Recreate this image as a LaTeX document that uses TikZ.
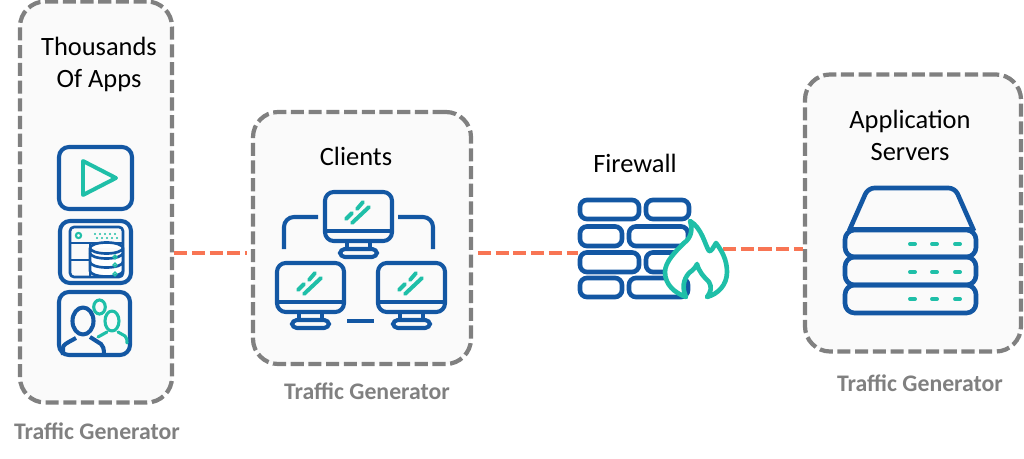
\documentclass[tikz,border=0pt]{standalone}
\usepackage{fontspec}
\setmainfont{Carlito}
\usepackage{xcolor}
\usetikzlibrary{calc}
\definecolor{iconblue}{HTML}{1357A3}
\definecolor{iconteal}{HTML}{1FBFA8}
\definecolor{linkred}{HTML}{F87554}
\definecolor{boxgray}{HTML}{808080}
\newcommand{\monitor}[2]{%
  \begin{scope}[shift={(#1,#2)}]
    \draw[blueline,rounded corners=2.2mm] (325,192) rectangle (392,241);
    \draw[blueline] (325,231)--(392,231) (347,241)--(347,250) (370,241)--(370,250);
    \draw[blueline,rounded corners=1.2mm] (340,249) rectangle (377,257);
    \draw[tealline] (363,202)--(357,209) (352,213)--(346,219) (369,207)--(352,223);
  \end{scope}}
\newcommand{\serverdots}[1]{%
  \draw[tealline] (910,#1)--(915,#1) (932,#1)--(937,#1) (955,#1)--(960,#1);}
\begin{document}
\begin{tikzpicture}[x=0.025cm,y=-0.025cm,
  group/.style={draw=boxgray,fill=black!2,line width=3pt,dash pattern=on 9.3pt off 3.3pt,rounded corners=18pt,inner sep=0pt},
  link/.style={draw=linkred,line width=2.9pt,dash pattern=on 9.3pt off 3.3pt},
  title/.style={font=\fontsize{18.8}{22.8}\selectfont,align=center,text=black,inner sep=0pt},
  tag/.style={font=\fontsize{16.9}{19}\selectfont\bfseries,text=boxgray,inner sep=0pt},
  blueline/.style={draw=iconblue,line width=2.9pt,line join=round},
  tealline/.style={draw=iconteal,line width=2.8pt,line cap=round,line join=round},
  brick/.style={draw=iconblue,line width=3.3pt,rounded corners=5pt}]
\useasboundingbox (0,0) rectangle (1024,459);
% the three groups
\node[group,minimum width=152*0.7113pt,minimum height=401*0.7113pt] (apps) at (96,202) {};
\node[group,minimum width=218*0.7113pt,minimum height=252*0.7113pt] (clients) at (362,238) {};
\node[group,minimum width=216*0.7113pt,minimum height=277*0.7113pt] (servers) at (913,213) {};
\node[inner sep=0pt,minimum width=152*0.7113pt,minimum height=108*0.7113pt] (firewall) at (654,253) {};
\coordinate (flameout) at (723,249);
% connectors
\draw[link,shorten >=3pt] (apps.east |- firewall.west)--(clients.west |- firewall.west);
\draw[link,shorten <=3.4pt] (clients.east |- firewall.west)--(firewall.west);
\draw[link] (flameout)--(servers.west |- flameout);
% play icon
\draw[blueline,rounded corners=2.5mm] (59,147) rectangle (132,209);
\draw[tealline] (83,161)--(116,178)--(83,195)--cycle;
% database icon
\draw[blueline,rounded corners=2.5mm] (60,221) rectangle (131,283);
\draw[blueline,line width=1.9pt,rounded corners=1mm] (70,227) rectangle (123,277);
\draw[blueline,line width=1.9pt] (70,243)--(123,243) (70,260)--(90,260) (90,243)--(90,277);
\draw[blueline,line width=1.9pt,fill=white] (90,248)--(90,271) arc[x radius=16.5,y radius=5.5,start angle=180,end angle=0]--(123,248) arc[x radius=16.5,y radius=5.5,start angle=0,end angle=360];
\draw[blueline,line width=1.9pt] (90,253) arc[x radius=16.5,y radius=5.5,start angle=180,end angle=0]
  (90,262) arc[x radius=16.5,y radius=5.5,start angle=180,end angle=0];
\draw[iconteal,line width=1.5pt] (78.5,235.5) circle (2.6);
\foreach \x in {95,100,105,110,115} \fill[iconteal] (\x,234) circle (1.2);
\foreach \x in {97,102,107,112,117} \fill[iconteal] (\x,238) circle (1.2);
\foreach \y in {257,265,274} \draw[iconteal,line width=1pt] (115,\y) circle (1.8);
% people icon
\draw[blueline,rounded corners=2.5mm] (59,292) rectangle (130,355);
\draw[tealline,line width=2.2pt] (99.5,307) ellipse (5.8 and 7);
\draw[tealline,line width=2.2pt] (112,321) ellipse (7 and 10);
\draw[tealline,line width=2.2pt] (98,337)--(107,332) (118,332)--(125,336) ..controls (127,338) and (127,340) .. (127,343);
\draw[blueline] (83,321) ellipse (10.5 and 13.5);
\draw[blueline] (63,355)--(63,348) ..controls (63,345) and (65,344) .. (76,338) (90,337)--(101,344) ..controls (103,346) and (104,348) .. (104,355);
% client monitors
\monitor{0}{0}
\monitor{-48}{71}
\monitor{53}{71}
\draw[blueline,rounded corners=2.5mm] (318,217)--(284,217)--(284,249);
\draw[blueline,rounded corners=2.5mm] (398,217)--(433,217)--(433,249);
\draw[blueline] (347,321)--(374,321);
% brick wall and flame
\draw[brick] (580,200) rectangle (639,219);
\draw[brick] (646,200) rectangle (689,219);
\draw[brick] (580,226.5) rectangle (622,246);
\draw[brick] (629,226.5) rectangle (688,246);
\draw[brick] (580,252.5) rectangle (639,272);
\draw[brick] (646,252.5) rectangle (689,272);
\draw[brick] (580,278) rectangle (622,297);
\draw[brick] (629,278) rectangle (688,297);
\draw[tealline,line width=3.3pt,fill=white] (690,221) ..controls (693,230) and (691,238) .. (684,243)
  ..controls (675,252) and (665,262) .. (665,272) ..controls (665,285) and (675,293) .. (686,297)
  ..controls (682,288) and (683,280) .. (689,273) ..controls (693,270) and (696,267) .. (697,264)
  ..controls (699,272) and (704,277) .. (709,282) ..controls (712,287) and (711,292) .. (707,297)
  ..controls (718,294) and (727,285) .. (727,272) ..controls (727,260) and (722,251) .. (716,243)
  ..controls (713,248) and (711,252) .. (709,251) ..controls (705,245) and (702,228) .. (690,221)--cycle;
% server stack
\draw[blueline,line width=3.3pt,rounded corners=1.6mm] (849,231)--(868,188)--(955,188)--(974,231);
\draw[blueline,line width=3.3pt] (850,229)--(972,229);
\draw[blueline,line width=3.3pt,rounded corners=2.4mm] (845,230) rectangle (976,257);
\draw[blueline,line width=3.3pt,rounded corners=2.4mm] (845,257) rectangle (976,285);
\draw[blueline,line width=3.3pt,rounded corners=2.4mm] (845,285) rectangle (976,313);
\serverdots{244}
\serverdots{272}
\serverdots{299}
% labels
\node[title] (appstitle) at (99,64) {Thousands\\Of Apps};
\node[title] (clientstitle) at (356,156) {Clients};
\node[title] (firewalltitle) at (635,163) {Firewall};
\node[title] (serverstitle) at (910,135) {Application\\Servers};
\node[tag] (appstag) at (97,431) {Traffic Generator};
\node[tag] (clientstag) at (367,391) {Traffic Generator};
\node[tag] (serverstag) at (920,383) {Traffic Generator};
\end{tikzpicture}
\end{document}
